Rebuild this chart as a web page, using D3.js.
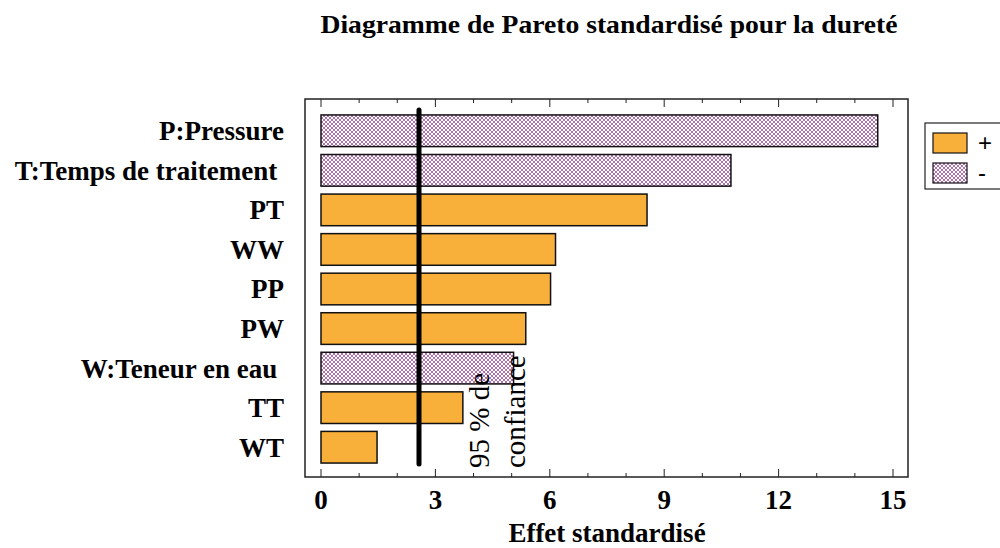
<!DOCTYPE html>
<html>
<head>
<meta charset="utf-8">
<script src="https://cdn.jsdelivr.net/npm/d3@7"></script>
<style>
body{margin:0;background:#fff;}
text{font-family:"Liberation Serif","Times New Roman",serif;}
</style>
</head>
<body>
<div id="chart"></div>
<script>
// effets standardisés, du plus grand au plus petit
var factors = ["P:Pressure","T:Temps de traitement ","PT","WW","PP","PW","W:Teneur en eau ","TT","WT"]
var effects = [14.6, 10.75, 8.55, 6.15, 6.02, 5.37, 5.05, 3.72, 1.47]
var signs = ["-","-","+","+","+","+","-","+","+"]
var xticks = [0,3,6,9,12,15]
var critical = 2.57
var legend_items = ["+","-"]

var W = 1000, H = 548
var svg = d3.select("#chart").append("svg")
	.attr("width", W).attr("height", H)

var defs = svg.append("defs")
var pat = defs.append("pattern")
	.attr("id","hatch")
	.attr("patternUnits","userSpaceOnUse")
	.attr("width",4).attr("height",4)
pat.append("rect").attr("width",4).attr("height",4).attr("fill","#fff")
pat.append("path").attr("d","M0,0 L4,4 M4,0 L0,4")
	.attr("stroke","#9a4f9a").attr("stroke-width",0.8)

function fill_for(s){ return s=="+" ? "#f9b03a" : "url(#hatch)" }

var frame = {left:305, right:908, top:99, bottom:477}
var x = d3.scaleLinear().domain([0,15]).range([321,893])
var y = d3.scaleBand().domain(factors).range([111,467]).paddingInner(0.2).paddingOuter(0.1)

// cadre
svg.append("rect")
	.attr("x",frame.left).attr("y",frame.top)
	.attr("width",frame.right-frame.left).attr("height",frame.bottom-frame.top)
	.attr("fill","none").attr("stroke","#222").attr("stroke-width",1.5)

// graduations haut et bas (vers l'intérieur)
var all_ticks = d3.range(0,16,1)
all_ticks.forEach(function(t){
	var len = (t%3==0) ? 8 : 4
	svg.append("line").attr("x1",x(t)).attr("x2",x(t))
		.attr("y1",frame.bottom).attr("y2",frame.bottom-len)
		.attr("stroke","#222").attr("stroke-width",1)
	svg.append("line").attr("x1",x(t)).attr("x2",x(t))
		.attr("y1",frame.top).attr("y2",frame.top+len)
		.attr("stroke","#222").attr("stroke-width",1)
})

// barres
svg.append("g").selectAll("rect")
	.data(factors)
	.join("rect")
	.attr("x", x(0))
	.attr("y", d=>y(d))
	.attr("width", (d,i)=>x(effects[i])-x(0))
	.attr("height", y.bandwidth())
	.attr("fill", (d,i)=>fill_for(signs[i]))
	.attr("stroke","#111").attr("stroke-width",1.5)

// libellés des facteurs
svg.append("g").selectAll("text")
	.data(factors)
	.join("text")
	.attr("x", 284)
	.attr("y", d=>y(d)+y.bandwidth()/2)
	.attr("dy","0.35em")
	.attr("text-anchor","end")
	.style("white-space","pre")
	.attr("font-weight","bold")
	.attr("font-size","27px")
	.text(d=>d)

// ligne de seuil
svg.append("line")
	.attr("x1",x(critical)).attr("x2",x(critical))
	.attr("y1",110).attr("y2",464)
	.attr("stroke","#000").attr("stroke-width",5)
	.attr("stroke-linecap","round")

var conf = svg.append("text")
	.attr("transform","translate("+(x(critical)+70)+",468) rotate(-90)")
	.attr("font-size","29px")
conf.append("tspan").attr("x",0).attr("dy",0).text("95 % de")
conf.append("tspan").attr("x",0).attr("dy",36).text("confiance")

// étiquettes de l'axe x
svg.append("g").selectAll("text")
	.data(xticks)
	.join("text")
	.attr("x", d=>x(d))
	.attr("y", 509)
	.attr("text-anchor","middle")
	.attr("font-weight","bold")
	.attr("font-size","27px")
	.text(d=>d)

svg.append("text")
	.attr("x",607).attr("y",542)
	.attr("text-anchor","middle")
	.attr("font-weight","bold")
	.attr("font-size","27px")
	.text("Effet standardisé")

svg.append("text")
	.attr("x",609).attr("y",33)
	.attr("text-anchor","middle")
	.attr("font-weight","bold")
	.attr("font-size","26px")
	.attr("textLength",577).attr("lengthAdjust","spacingAndGlyphs")
	.text("Diagramme de Pareto standardisé pour la dureté")

// légende
var lg = svg.append("g")
lg.append("rect").attr("x",925).attr("y",123).attr("width",80).attr("height",66)
	.attr("fill","#fff").attr("stroke","#222").attr("stroke-width",1.2)
legend_items.forEach(function(s,i){
	lg.append("rect").attr("x",933).attr("y",133+i*30).attr("width",34).attr("height",20)
		.attr("fill",fill_for(s)).attr("stroke","#111").attr("stroke-width",1.2)
	lg.append("text").attr("x",978).attr("y",143+i*30).attr("dy","0.35em")
		.style("font-family","'Liberation Sans',Arial,sans-serif")
		.attr("font-size","24px").text(s)
})
</script>
</body>
</html>
